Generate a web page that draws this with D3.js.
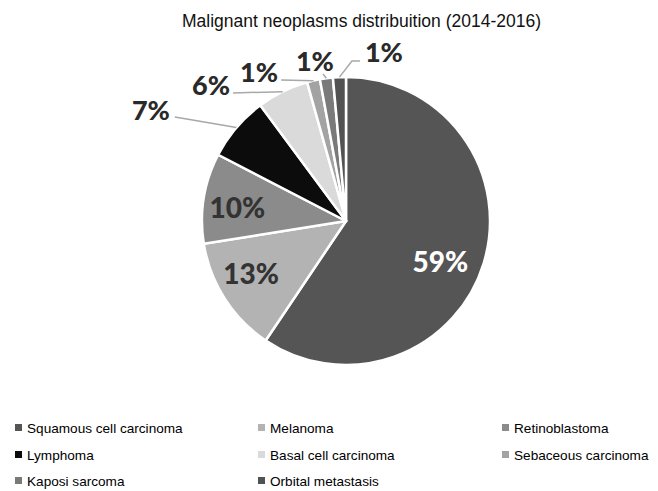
<!DOCTYPE html>
<html><head><meta charset="utf-8">
<script src="https://cdn.jsdelivr.net/npm/d3@7"></script>
<style>body{margin:0;background:#fff}</style>
</head><body>
<svg id="c" width="658" height="491"></svg>
<script>
// ---- data ----
const title = "Malignant neoplasms distribuition (2014-2016)";
const categories = ["Squamous cell carcinoma","Melanoma","Retinoblastoma","Lymphoma","Basal cell carcinoma","Sebaceous carcinoma","Kaposi sarcoma","Orbital metastasis"];
const counts = [41, 9, 7, 5, 4, 1, 1, 1];
const colors = ["#555555","#b3b3b3","#8b8b8b","#0c0c0c","#dadada","#a3a3a3","#7a7a7a","#525252"];

// ---- layout (styles/positions, separate from data) ----
const W = 658, H = 491;
const cx = 346, cy = 221, R = 144;
const insideLayout = {0:{dx:-6,dy:10,fill:"#ffffff"},1:{dx:-6.5,dy:-3.6,fill:"#333333"},2:{dx:-5,dy:3.6,fill:"#333333"}};
const outsideLayout = {
  3:{pts:[[-61.5,-10.5]], text:[-66.5,-7.5], anchor:"end"},
  4:{pts:[[-49.6,1.3]], text:[-52.6,3.3], anchor:"end"},
  5:{pts:[[-32.4,-0.7]], text:[-35.4,1.3], anchor:"end"},
  6:{pts:[[-3.5,-4.3]], text:[-11.5,-7.3], anchor:"middle"},
  7:{pts:[[12.5,-16.1],[20.5,-16.1]], text:[25.5,-15.1], anchor:"start"}
};

const svg = d3.select("#c");
svg.append("text").attr("x",361.5).attr("y",27).attr("text-anchor","middle")
  .attr("font-family","Liberation Sans, Arial, sans-serif").attr("font-size",17.5).attr("fill","#111").text(title);

const total = d3.sum(counts);
const pie = d3.pie().sort(null).value(d=>d);
const arcs = pie(counts);
const arc = d3.arc().innerRadius(0).outerRadius(R);
const g = svg.append("g").attr("transform",`translate(${cx},${cy})`);
g.selectAll("path").data(arcs).join("path")
  .attr("d",arc).attr("fill",(d,i)=>colors[i]).attr("stroke","#fff").attr("stroke-width",2.5).attr("stroke-linejoin","round");

const labelArc = d3.arc().innerRadius(105).outerRadius(105);
const edgeArc = d3.arc().innerRadius(R).outerRadius(R);
const pct = d => Math.round(d.value/total*100) + "%";
const lblFont = "Lato, 'Open Sans', sans-serif";

arcs.forEach((d,i)=>{
  if (insideLayout[i]) {
    const c = labelArc.centroid(d), L = insideLayout[i];
    g.append("text").attr("x",c[0]+L.dx).attr("y",c[1]+L.dy).attr("dy","0.36em")
      .attr("text-anchor","middle").attr("font-family",lblFont).attr("font-weight",900)
      .attr("font-size",28).attr("fill",L.fill).text(pct(d));
  } else if (outsideLayout[i]) {
    const p = edgeArc.centroid(d), L = outsideLayout[i];
    const pts = [p].concat(L.pts.map(q=>[p[0]+q[0],p[1]+q[1]]));
    g.append("path").attr("d",d3.line()(pts)).attr("fill","none").attr("stroke","#a8a8a8").attr("stroke-width",1.5);
    g.append("text").attr("x",p[0]+L.text[0]).attr("y",p[1]+L.text[1])
      .attr("text-anchor",L.anchor).attr("font-family",lblFont).attr("font-weight",900)
      .attr("font-size",27).attr("fill","#2a2a2a").text(pct(d));
  }
});

// legend
const colX = [15, 258, 502], rowY = [428, 455, 481];
const lg = svg.append("g");
categories.forEach((name,i)=>{
  const x = colX[i%3], y = rowY[Math.floor(i/3)];
  lg.append("rect").attr("x",x).attr("y",y-4).attr("width",7).attr("height",7).attr("fill",colors[i]);
  lg.append("text").attr("x",x+12).attr("y",y).attr("dy","0.35em")
    .attr("font-family","Liberation Sans, Arial, sans-serif").attr("font-size",13.6).attr("fill","#000").text(name);
});
</script>
</body></html>
